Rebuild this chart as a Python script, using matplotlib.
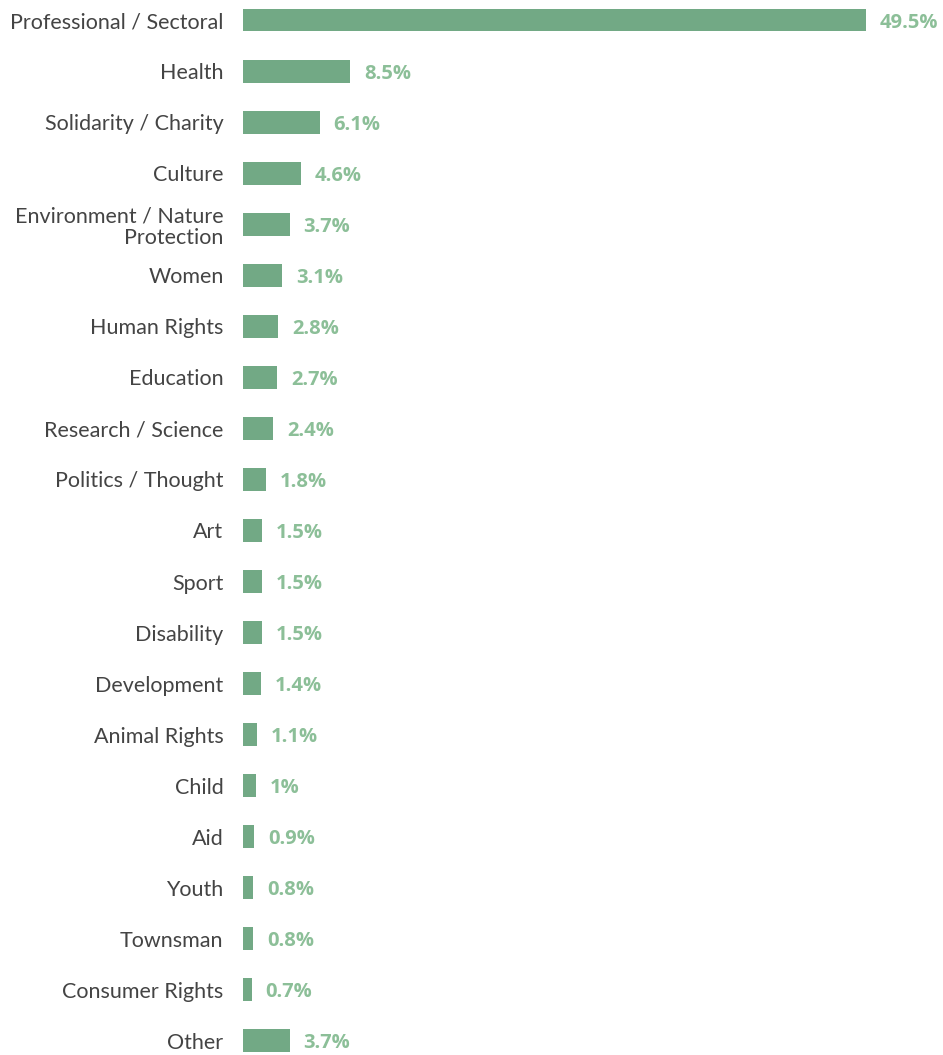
import matplotlib.pyplot as plt

categories = [
    "Professional / Sectoral", "Health", "Solidarity / Charity", "Culture",
    "Environment / Nature\nProtection", "Women", "Human Rights", "Education",
    "Research / Science", "Politics / Thought", "Art", "Sport", "Disability",
    "Development", "Animal Rights", "Child", "Aid", "Youth", "Townsman",
    "Consumer Rights", "Other",
]
values = [49.5, 8.5, 6.1, 4.6, 3.7, 3.1, 2.8, 2.7, 2.4, 1.8, 1.5, 1.5, 1.5,
          1.4, 1.1, 1.0, 0.9, 0.8, 0.8, 0.7, 3.7]
value_labels = ["49.5%", "8.5%", "6.1%", "4.6%", "3.7%", "3.1%", "2.8%", "2.7%",
                "2.4%", "1.8%", "1.5%", "1.5%", "1.5%", "1.4%", "1.1%", "1%",
                "0.9%", "0.8%", "0.8%", "0.7%", "3.7%"]

bar_color = "#72a985"
value_color = "#8cbf98"
text_color = "#444444"

fig = plt.figure(figsize=(9.43, 10.55), dpi=100)
ax = fig.add_axes([243 / 943, 0, 700 / 943, 1])

y = list(range(len(categories)))
ax.barh(y, values, height=0.45, color=bar_color)

for yi, v, lab in zip(y, values, value_labels):
    ax.annotate(lab, (v, yi), xytext=(10, 0), textcoords="offset points",
                va="center_baseline", ha="left", fontsize=14.5,
                fontweight="bold", color=value_color, family="Open Sans")

ax.set_xlim(0, 700 / 12.59)
ax.set_ylim(20.275, -0.392)
ax.set_yticks(y)
ax.set_yticklabels(categories, fontsize=15.5, color=text_color, family="Lato",
                   linespacing=1.1)
ax.tick_params(axis="y", length=0, pad=14)
ax.set_xticks([])
for s in ax.spines.values():
    s.set_visible(False)

fig.savefig("out.png", dpi=100)
